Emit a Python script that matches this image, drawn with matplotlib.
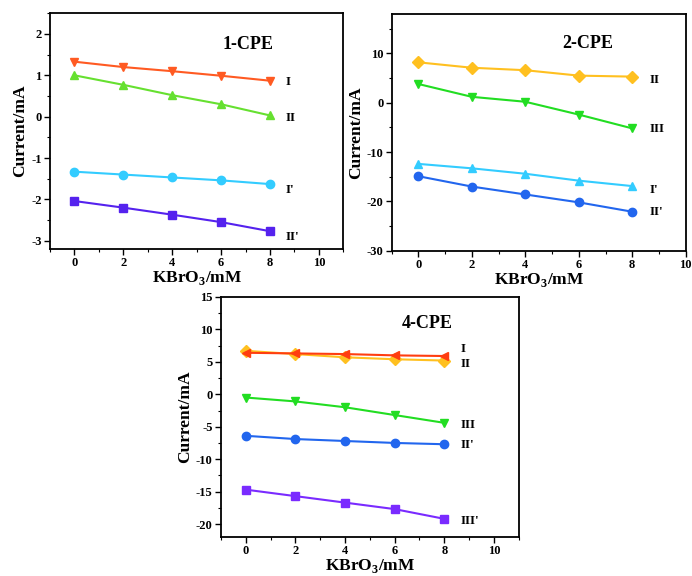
import matplotlib
matplotlib.use("Agg")
import matplotlib.pyplot as plt
from matplotlib.ticker import MultipleLocator

plt.rcParams["font.family"] = ["Liberation Serif", "DejaVu Serif"]
plt.rcParams["font.weight"] = "bold"
plt.rcParams["axes.unicode_minus"] = False
plt.rcParams["mathtext.fontset"] = "custom"
plt.rcParams["mathtext.rm"] = "Liberation Serif:bold"

# KBrO3 concentration (mM)
kbro3 = [0, 2, 4, 6, 8]

# 1-CPE
cpe1_I = [1.33, 1.20, 1.10, 0.99, 0.87]
cpe1_II = [1.00, 0.77, 0.52, 0.30, 0.03]
cpe1_Ip = [-1.33, -1.40, -1.47, -1.54, -1.63]
cpe1_IIp = [-2.04, -2.20, -2.37, -2.55, -2.77]

# 2-CPE
cpe2_II = [8.2, 7.1, 6.6, 5.5, 5.3]
cpe2_III = [3.8, 1.2, 0.2, -2.4, -5.2]
cpe2_Ip = [-12.4, -13.3, -14.4, -15.8, -16.9]
cpe2_IIp = [-14.9, -17.0, -18.6, -20.2, -22.1]

# 4-CPE
cpe4_I = [6.4, 6.3, 6.2, 6.0, 5.9]
cpe4_II = [6.7, 6.2, 5.7, 5.4, 5.2]
cpe4_III = [-0.5, -1.1, -2.0, -3.2, -4.4]
cpe4_IIp = [-6.4, -6.9, -7.2, -7.5, -7.7]
cpe4_IIIp = [-14.7, -15.7, -16.7, -17.7, -19.2]

RED = "#ff5a22"
GREEN = "#66e030"
CYAN = "#33ccff"
VIOLET = "#5522ee"
GOLD = "#ffc020"
BLUE = "#2266ee"
GREEN2 = "#22dd22"
RED2 = "#ff3d10"
PURPLE = "#7a2bff"

fig = plt.figure(figsize=(6.92, 5.76), dpi=100)


def setup(ax, xlim, ylim, ymajor, yminor):
    ax.set_xlim(*xlim)
    ax.set_ylim(*ylim)
    ax.xaxis.set_major_locator(MultipleLocator(2))
    ax.xaxis.set_minor_locator(MultipleLocator(1))
    ax.yaxis.set_major_locator(MultipleLocator(ymajor))
    ax.yaxis.set_minor_locator(MultipleLocator(yminor))
    ax.tick_params(which="major", direction="out", length=4, width=1, labelsize=9, pad=2)
    ax.tick_params(which="minor", direction="out", length=2.5, width=0.8)
    for s in ax.spines.values():
        s.set_linewidth(1.3)
    ax.set_xlabel("KBrO$_3$/mM", fontsize=12.5, fontweight="bold", labelpad=0)
    ax.set_ylabel("Current/mA", fontsize=12.5, fontweight="bold", labelpad=2)


def series(ax, y, color, marker, label, ly):
    ax.plot(kbro3, y, color=color, marker=marker, markersize=6, linewidth=1.5)
    ax.text(8.65, ly, label, fontsize=9.5, fontweight="bold", va="center", ha="left")


# panel 1
ax1 = fig.add_axes([0.0723, 0.5677, 0.4238, 0.4092])
setup(ax1, (-1, 11), (-3.2, 2.5), 1, 0.5)
series(ax1, cpe1_I, RED, "v", "I", 0.85)
series(ax1, cpe1_II, GREEN, "^", "II", -0.03)
series(ax1, cpe1_Ip, CYAN, "o", "I'", -1.77)
series(ax1, cpe1_IIp, VIOLET, "s", "II'", -2.9)
ax1.text(6.05, 1.74, "1-CPE", fontsize=13, fontweight="bold", va="center")

# panel 2
ax2 = fig.add_axes([0.566, 0.5648, 0.4249, 0.4109])
setup(ax2, (-1, 10), (-30, 18), 10, 5)
series(ax2, cpe2_II, GOLD, "D", "II", 4.6)
series(ax2, cpe2_III, GREEN2, "v", "III", -5.4)
series(ax2, cpe2_Ip, CYAN, "^", "I'", -17.7)
series(ax2, cpe2_IIp, BLUE, "o", "II'", -22.1)
ax2.text(5.4, 12.0, "2-CPE", fontsize=13, fontweight="bold", va="center")

# panel 3
ax3 = fig.add_axes([0.3194, 0.0677, 0.4302, 0.4167])
setup(ax3, (-1, 11), (-22, 15), 5, 2.5)
series(ax3, cpe4_II, GOLD, "D", "II", 4.6)
series(ax3, cpe4_I, RED2, "<", "I", 7.0)
series(ax3, cpe4_III, GREEN2, "v", "III", -4.8)
series(ax3, cpe4_IIp, BLUE, "o", "II'", -7.75)
series(ax3, cpe4_IIIp, PURPLE, "s", "III'", -19.6)
ax3.text(6.3, 10.9, "4-CPE", fontsize=13, fontweight="bold", va="center")

fig.savefig("out.png", dpi=100)
